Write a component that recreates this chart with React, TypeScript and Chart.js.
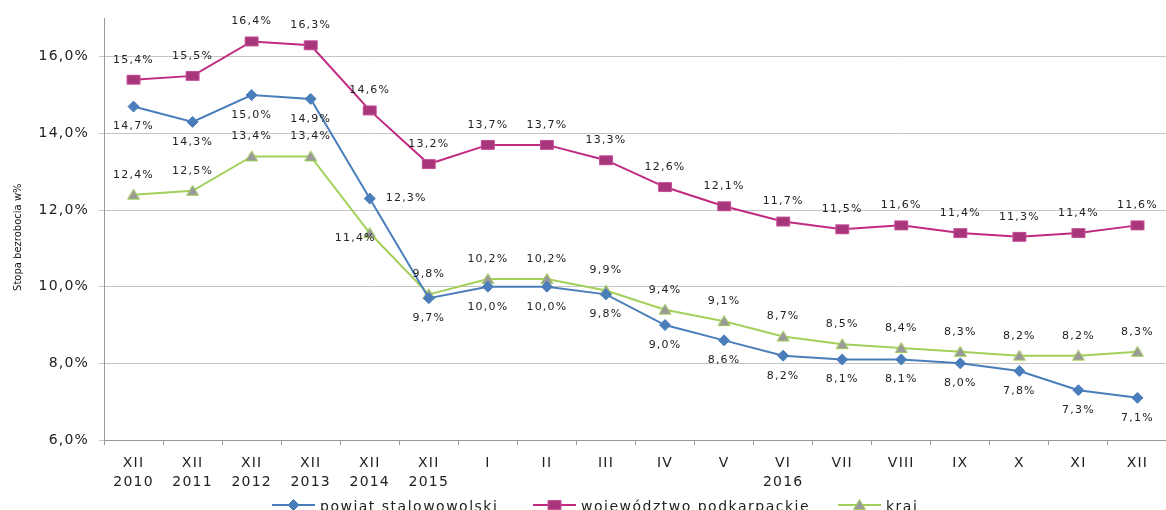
import React, { useEffect, useRef } from "react";
import { Chart, registerables } from "chart.js";

Chart.register(...registerables);

const categories: (string | string[])[] = [
  ["XII", "2010"], ["XII", "2011"], ["XII", "2012"], ["XII", "2013"], ["XII", "2014"], ["XII", "2015"],
  "I", "II", "III", "IV", "V", ["VI", "2016"], "VII", "VIII", "IX", "X", "XI", "XII",
];
const powiat = [14.7, 14.3, 15.0, 14.9, 12.3, 9.7, 10.0, 10.0, 9.8, 9.0, 8.6, 8.2, 8.1, 8.1, 8.0, 7.8, 7.3, 7.1];
const wojewodztwo = [15.4, 15.5, 16.4, 16.3, 14.6, 13.2, 13.7, 13.7, 13.3, 12.6, 12.1, 11.7, 11.5, 11.6, 11.4, 11.3, 11.4, 11.6];
const kraj = [12.4, 12.5, 13.4, 13.4, 11.4, 9.8, 10.2, 10.2, 9.9, 9.4, 9.1, 8.7, 8.5, 8.4, 8.3, 8.2, 8.2, 8.3];
const seriesNames = ["powiat stalowowolski", "województwo podkarpackie", "kraj"];
const yTicks = [6, 8, 10, 12, 14, 16];
const yMin = 6;
const yMax = 17;
const yTitle = "Stopa bezrobocia w%";

const FONT = '"DejaVu Sans", Verdana, sans-serif';
const SPACING = "1.2px";

const BLUE = "#4a7ebb";
const MAGENTA = "#c02a80";
const SQ_FILL = "#a8367a";
const SQ_BORDER = "#c8509a";
const GREEN = "#a2d05a";
const TRI_FILL = "#9a9a9a";

const fmt = (v: number) => v.toFixed(1).replace(".", ",") + "%";

const placement = ["below", "above", "above"];
const overrides: Record<string, string> = { "0-4": "right", "2-4": "leftBelow" };

function drawMarker(ctx: CanvasRenderingContext2D, kind: number, x: number, y: number) {
  ctx.save();
  ctx.lineWidth = 1;
  ctx.beginPath();
  if (kind === 0) {
    const r = 5.5;
    ctx.moveTo(x - r, y); ctx.lineTo(x, y - r); ctx.lineTo(x + r, y); ctx.lineTo(x, y + r); ctx.closePath();
    ctx.fillStyle = BLUE; ctx.strokeStyle = BLUE;
  } else if (kind === 1) {
    ctx.rect(x - 6.5, y - 4.5, 13, 9);
    ctx.fillStyle = SQ_FILL; ctx.strokeStyle = SQ_BORDER;
  } else {
    ctx.moveTo(x, y - 5.5); ctx.lineTo(x + 6, y + 4.5); ctx.lineTo(x - 6, y + 4.5); ctx.closePath();
    ctx.fillStyle = TRI_FILL; ctx.strokeStyle = GREEN;
  }
  ctx.fill(); ctx.stroke();
  ctx.restore();
}

function makeMarker(kind: number, w: number, h: number) {
  const c = document.createElement("canvas");
  c.width = w; c.height = h;
  const ctx = c.getContext("2d") as CanvasRenderingContext2D;
  drawMarker(ctx, kind, w / 2, h / 2);
  return c;
}

const spacingPlugin = {
  id: "spacing",
  beforeUpdate(chart: any) { chart.ctx.letterSpacing = SPACING; },
  beforeLayout(chart: any) { chart.ctx.letterSpacing = SPACING; },
  beforeDraw(chart: any) { chart.ctx.letterSpacing = SPACING; },
};

const labelsPlugin = {
  id: "customLabels",
  afterDatasetsDraw(chart: any) {
    const ctx: CanvasRenderingContext2D = chart.ctx;
    ctx.save();
    ctx.letterSpacing = SPACING;
    ctx.font = `11px ${FONT}`;
    ctx.fillStyle = "#222";
    ctx.textBaseline = "middle";
    chart.data.datasets.forEach((ds: any, i: number) => {
      const meta = chart.getDatasetMeta(i);
      meta.data.forEach((p: any, j: number) => {
        const txt = fmt(ds.data[j]);
        const ov = overrides[`${i}-${j}`];
        if (ov === "right") {
          ctx.textAlign = "left";
          ctx.fillText(txt, p.x + 16, p.y);
        } else if (ov === "leftBelow") {
          ctx.textAlign = "right";
          ctx.fillText(txt, p.x + 6, p.y + 5);
        } else {
          ctx.textAlign = "center";
          ctx.fillText(txt, p.x, placement[i] === "below" ? p.y + 20 : p.y - 20);
        }
      });
    });
    ctx.restore();
  },
  afterDraw(chart: any) {
    const ctx: CanvasRenderingContext2D = chart.ctx;
    const area = chart.chartArea;
    ctx.save();
    ctx.letterSpacing = "0px";
    ctx.font = `10px ${FONT}`;
    ctx.fillStyle = "#111";
    ctx.textAlign = "center";
    ctx.textBaseline = "middle";
    ctx.translate(18, (area.top + area.bottom) / 2 + 8);
    ctx.rotate(-Math.PI / 2);
    ctx.fillText(yTitle, 0, 0);
    ctx.restore();
    const starts = [272, 533, 838];
    const colors = [BLUE, MAGENTA, GREEN];
    const ly = 505;
    ctx.save();
    ctx.letterSpacing = "1.5px";
    ctx.font = `14px ${FONT}`;
    ctx.textBaseline = "alphabetic";
    ctx.textAlign = "left";
    seriesNames.forEach((name, i) => {
      const sx = starts[i];
      ctx.strokeStyle = colors[i];
      ctx.lineWidth = 2;
      ctx.beginPath(); ctx.moveTo(sx, ly); ctx.lineTo(sx + 43, ly); ctx.stroke();
      drawMarker(ctx, i, sx + 21.5, ly);
      ctx.fillStyle = "#222";
      ctx.fillText(name, sx + 48, ly + 6);
    });
    ctx.restore();
  },
};

export default function App() {
  const ref = useRef<HTMLCanvasElement | null>(null);
  useEffect(() => {
    if (!ref.current) return;
    const sq = makeMarker(1, 16, 12);
    const tri = makeMarker(2, 16, 14);
    const chart = new Chart(ref.current, {
      type: "line",
      data: {
        labels: categories,
        datasets: [
          {
            label: seriesNames[0], data: powiat, borderColor: BLUE, backgroundColor: BLUE,
            borderWidth: 2, pointStyle: "rectRot", pointRadius: 5.5, pointBorderWidth: 1,
            pointBackgroundColor: BLUE, pointBorderColor: BLUE, tension: 0,
          },
          {
            label: seriesNames[1], data: wojewodztwo, borderColor: MAGENTA, backgroundColor: SQ_FILL,
            borderWidth: 2, pointStyle: sq, pointRadius: 7, tension: 0,
          },
          {
            label: seriesNames[2], data: kraj, borderColor: GREEN, backgroundColor: TRI_FILL,
            borderWidth: 2, pointStyle: tri, pointRadius: 7, tension: 0,
          },
        ],
      },
      options: {
        responsive: false,
        animation: false,
        layout: { padding: { top: 14, right: 0, bottom: 0, left: 0 } },
        plugins: { legend: { display: false }, tooltip: { enabled: false } },
        scales: {
          x: {
            type: "category",
            offset: true,
            afterFit: (s: any) => { s.height = 70; },
            grid: { offset: true, drawOnChartArea: false, drawTicks: true, tickLength: 5, color: "#999" },
            border: { color: "#999", width: 1 },
            ticks: {
              autoSkip: false, maxRotation: 0, padding: 9, color: "#222",
              font: { family: FONT, size: 14, lineHeight: 1.35 },
            },
          },
          y: {
            min: yMin, max: yMax,
            afterFit: (s: any) => { s.width = 104; },
            afterBuildTicks: (s: any) => { s.ticks = yTicks.map((v) => ({ value: v })); },
            grid: { color: "#c4c4c4", tickLength: 5, lineWidth: 1 },
            border: { color: "#999", width: 1 },
            ticks: {
              padding: 10, color: "#222",
              font: { family: FONT, size: 14 },
              callback: (v: any) => fmt(Number(v)),
            },
          },
        },
      },
      plugins: [spacingPlugin, labelsPlugin],
    } as any);
    return () => chart.destroy();
  }, []);
  return (
    <div style={{ position: "fixed", left: 0, top: 0, width: 1166, height: 510, overflow: "hidden", background: "#fff" }}>
      <canvas ref={ref} width={1176} height={510} style={{ display: "block" }} />
    </div>
  );
}
